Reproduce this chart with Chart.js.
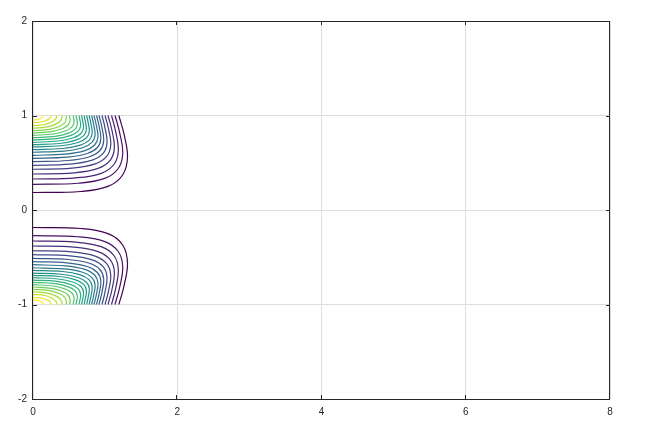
<!DOCTYPE html>
<html>
<head>
<meta charset="utf-8">
<script src="https://cdn.jsdelivr.net/npm/chart.js@4/dist/chart.umd.min.js"></script>
<style>
  html, body { margin: 0; padding: 0; background: #fff; }
  #wrap { width: 645px; height: 446px; }
</style>
</head>
<body>
<div id="wrap"><canvas id="c" width="645" height="446"></canvas></div>
<script>
// ── Ticks ────────────────────────────────────────────────────────────────
const X_TICKS = [0, 2, 4, 6, 8]
const Y_TICKS = [-2, -1, 0, 1, 2]

// ── Contours of the upper lobe, lowest level (outermost) first ───────────
// points [x, y], each runs from the left edge up to y = 1
const C00 = [[0,.185],[.655,.196],[1.048,.253],[1.245,.373],[1.31,.56],[1.262,.802],[1.19,1]]
const C01 = [[0,.272],[.622,.283],[.995,.334],[1.182,.439],[1.244,.60],[1.201,.82],[1.137,1]]
const C02 = [[0,.328],[.592,.340],[.946,.388],[1.124,.484],[1.183,.63],[1.145,.834],[1.089,1]]
const C03 = [[0,.381],[.564,.393],[.902,.440],[1.072,.528],[1.128,.66],[1.093,.847],[1.04,1]]
const C04 = [[0,.431],[.539,.443],[.862,.488],[1.024,.570],[1.078,.69],[1.046,.861],[.999,1]]
const C05 = [[0,.473],[.513,.486],[.821,.528],[.975,.602],[1.026,.71],[.998,.870],[.957,1]]
const C06 = [[0,.511],[.49,.524],[.784,.564],[.931,.632],[.98,.73],[.954,.879],[.915,1]]
const C07 = [[0,.547],[.47,.560],[.752,.598],[.893,.661],[.94,.75],[.916,.888],[.881,1]]
const C08 = [[0,.579],[.45,.592],[.72,.629],[.855,.688],[.90,.77],[.878,.897],[.846,1]]
const C09 = [[0,.611],[.43,.624],[.688,.659],[.817,.715],[.86,.79],[.841,.906],[.812,1]]
const C10 = [[0,.638],[.41,.651],[.656,.686],[.779,.739],[.82,.81],[.803,.915],[.777,1]]
const C11 = [[0,.667],[.39,.680],[.624,.714],[.741,.764],[.78,.83],[.765,.924],[.743,1]]
const C12 = [[0,.691],[.37,.704],[.592,.739],[.703,.787],[.74,.85],[.727,.933],[.707,1]]
const C13 = [[0,.716],[.35,.730],[.56,.764],[.665,.810],[.70,.87],[.689,.942],[.673,1]]
const C14 = [[0,.741],[.33,.755],[.528,.789],[.627,.834],[.66,.89],[.651,.951],[.638,1]]
const C15 = [[0,.765],[.308,.779],[.492,.813],[.584,.856],[.615,.91],[.607,.960],[.596,1]]
const C16 = [[0,.79],[.285,.804],[.456,.838],[.542,.879],[.57,.93],[.564,.969],[.555,1]]
const C17 = [[0,.815],[.258,.830],[.412,.862],[.489,.902],[.515,.95],[.511,.978],[.506,1]]
const C18 = [[0,.839],[.232,.854],[.370,.886],[.44,.925],[.463,.97],[.458,1]]
const C19 = [[0,.865],[.202,.880],[.323,.911],[.384,.948],[.404,.99],[.402,1]]
const C20 = [[0,.892],[.167,.905],[.266,.933],[.316,.965],[.333,1]]
const C21 = [[0,.924],[.125,.934],[.2,.954],[.238,.976],[.25,1]]
const C22 = [[0,.952],[.07,.958],[.111,.971],[.132,.985],[.139,1]]

const UPPER = [C00,C01,C02,C03,C04,C05,C06,C07,C08,C09,C10,C11,
               C12,C13,C14,C15,C16,C17,C18,C19,C20,C21,C22]
// lower lobe is the mirror image of the upper one
const LOWER = UPPER.map(c => c.map(([x, y]) => [x, -y]))

// ── Styles ───────────────────────────────────────────────────────────────
const VIRIDIS = ["#440154","#482475","#414487","#355f8d","#2a788e","#21918c",
                 "#22a884","#44bf70","#7ad151","#bddf26","#fde725"]
const AXIS_COLOR = "#262626"
const GRID_COLOR = "#dedede"
const FONT = { family: "'Liberation Sans', Arial, sans-serif", size: 10 }

function hex(h) {
  return [1, 3, 5].map(i => parseInt(h.slice(i, i + 2), 16))
}

function viridis(t) {
  const p = t * (VIRIDIS.length - 1)
  const i = Math.min(Math.floor(p), VIRIDIS.length - 2)
  const f = p - i
  const a = hex(VIRIDIS[i]), b = hex(VIRIDIS[i + 1])
  const c = a.map((v, j) => Math.round(v + (b[j] - v) * f))
  return `rgb(${c[0]},${c[1]},${c[2]})`
}

function contourSets(lobe) {
  return lobe.map((pts, k) => ({
    data: pts.map(([x, y]) => ({ x, y })),
    borderColor: viridis(k / (lobe.length - 1)),
    borderWidth: 1.2,
    pointRadius: 0,
    showLine: true,
    fill: false,
    tension: 0.4
  }))
}

// box round the plot and inward tick marks on all four sides
const frame = {
  id: "frame",
  afterDraw(chart) {
    const { ctx, chartArea: a, scales: { x, y } } = chart
    const tl = 4
    ctx.save()
    ctx.strokeStyle = AXIS_COLOR
    ctx.lineWidth = 1
    ctx.strokeRect(a.left - 0.5, a.top + 0.5, a.right - a.left, a.bottom - a.top)
    ctx.beginPath()
    X_TICKS.forEach(v => {
      const px = Math.round(x.getPixelForValue(v)) - 0.5
      ctx.moveTo(px, a.bottom); ctx.lineTo(px, a.bottom - tl)
      ctx.moveTo(px, a.top); ctx.lineTo(px, a.top + tl)
    })
    Y_TICKS.forEach(v => {
      const py = Math.round(y.getPixelForValue(v)) + 0.5
      ctx.moveTo(a.left, py); ctx.lineTo(a.left + tl, py)
      ctx.moveTo(a.right, py); ctx.lineTo(a.right - tl, py)
    })
    ctx.stroke()
    ctx.restore()
  }
}

new Chart(document.getElementById("c"), {
  type: "scatter",
  data: { datasets: [...contourSets(UPPER), ...contourSets(LOWER)] },
  options: {
    responsive: false,
    animation: false,
    events: [],
    layout: { padding: { top: 21, right: 35, left: 0, bottom: 0 } },
    plugins: { legend: { display: false }, tooltip: { enabled: false } },
    scales: {
      x: {
        type: "linear",
        min: 0, max: 8,
        afterBuildTicks: s => { s.ticks = X_TICKS.map(v => ({ value: v })) },
        afterFit: s => { s.height = 47 },
        grid: { color: GRID_COLOR, drawTicks: false },
        border: { display: false },
        ticks: { padding: 7, color: AXIS_COLOR, font: FONT, maxRotation: 0 }
      },
      y: {
        type: "linear",
        min: -2, max: 2,
        afterBuildTicks: s => { s.ticks = Y_TICKS.map(v => ({ value: v })) },
        afterFit: s => { s.width = 33 },
        grid: { color: GRID_COLOR, drawTicks: false },
        border: { display: false },
        ticks: { padding: 6, color: AXIS_COLOR, font: FONT }
      }
    }
  },
  plugins: [frame]
})
</script>
</body>
</html>
